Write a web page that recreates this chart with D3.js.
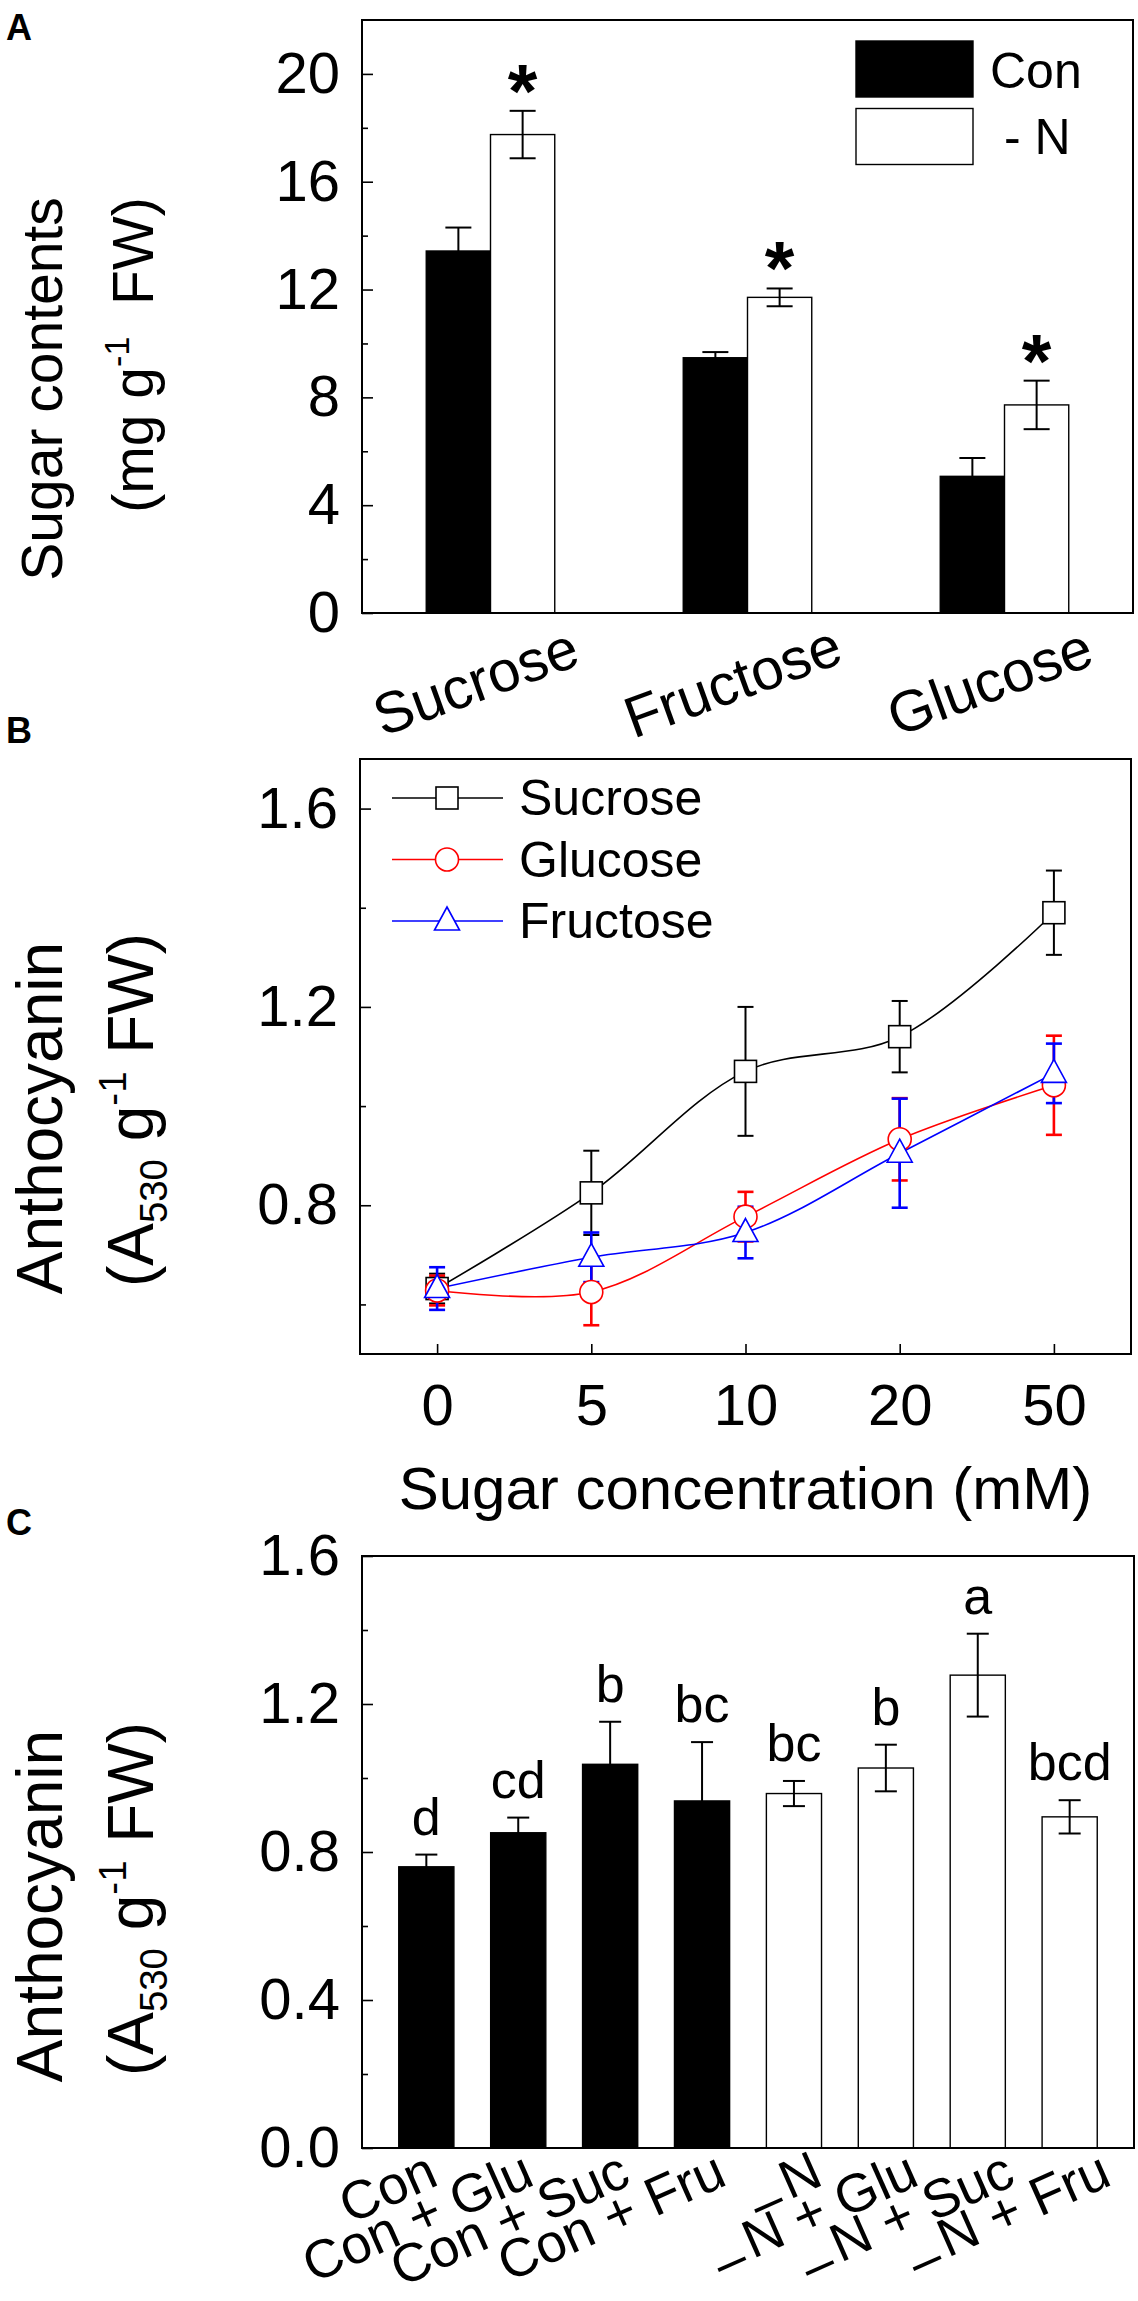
<!DOCTYPE html>
<html>
<head>
<meta charset="utf-8">
<script src="https://cdn.jsdelivr.net/npm/d3@7"></script>
<style>
  html, body { margin: 0; padding: 0; background: #fff; }
  svg { display: block; }
  text { font-family: "Liberation Sans", Arial, sans-serif; fill: #000; }
</style>
</head>
<body>
<div id="chart"></div>
<script>
// ── Data ─────────────────────────────────────────────────────────
// Panel A: sugar contents
const sugarNames = ['Sucrose', 'Fructose', 'Glucose'];
const sugarCon = [13.43, 9.47, 5.07];
const sugarConErr = [0.87, 0.21, 0.68];
const sugarMinusN = [17.75, 11.71, 7.72];
const sugarMinusNErr = [0.88, 0.33, 0.9];
const sugarTicks = [0, 4, 8, 12, 16, 20];

// Panel B: anthocyanin vs sugar concentration
const concLabels = ['0', '5', '10', '20', '50'];
const sucroseVals = [0.632, 0.825, 1.07, 1.14, 1.39];
const sucroseErr = [0.03, 0.085, 0.13, 0.072, 0.085];
const glucoseVals = [0.628, 0.625, 0.777, 0.933, 1.042];
const glucoseErr = [0.03, 0.067, 0.05, 0.083, 0.1];
const fructoseVals = [0.632, 0.695, 0.745, 0.905, 1.066];
const fructoseErr = [0.043, 0.05, 0.052, 0.11, 0.06];
const anthoTicksB = [0.8, 1.2, 1.6];

// Panel C: anthocyanin per treatment
const treatments = ['Con', 'Con + Glu', 'Con + Suc', 'Con + Fru', '–N', '–N + Glu', '–N + Suc', '–N + Fru'];
const treatmentVals = [0.76, 0.852, 1.037, 0.938, 0.958, 1.027, 1.278, 0.895];
const treatmentErr = [0.033, 0.041, 0.115, 0.159, 0.034, 0.063, 0.112, 0.045];
const treatmentLetters = ['d', 'cd', 'b', 'bc', 'bc', 'b', 'a', 'bcd'];
const anthoTicksC = [0, 0.4, 0.8, 1.2, 1.6];

// ── Setup ────────────────────────────────────────────────────────
const W = 1138, H = 2301;
const svg = d3.select('#chart').append('svg')
  .attr('width', W).attr('height', H)
  .attr('viewBox', `0 0 ${W} ${H}`);
svg.append('rect').attr('width', W).attr('height', H).attr('fill', '#fff');

const TICK_FONT = 58;

function frame(g, x0, x1, y0, y1) {
  g.append('rect')
    .attr('x', x0).attr('y', y0)
    .attr('width', x1 - x0).attr('height', y1 - y0)
    .attr('fill', 'none').attr('stroke', '#000').attr('stroke-width', 2);
}

// inward y ticks with labels on the left
function yAxis(g, y, x0, major, minor, fmt) {
  const ax = g.append('g').attr('transform', `translate(${x0},0)`);
  ax.call(d3.axisLeft(y).tickValues(major).tickSize(-11).tickPadding(22).tickFormat(fmt));
  ax.append('g').call(d3.axisLeft(y).tickValues(minor).tickSize(-6).tickFormat(''));
  ax.selectAll('path.domain').remove();
  ax.selectAll('line').attr('stroke', '#000').attr('stroke-width', 1.6);
  ax.selectAll('text')
    .attr('font-size', TICK_FONT)
    .attr('font-family', '"Liberation Sans", Arial, sans-serif')
    .attr('fill', '#000');
}

function panelLabel(txt, x, y) {
  svg.append('text').attr('x', x).attr('y', y)
    .attr('font-size', 36).attr('font-weight', 700).text(txt);
}

// rotated two-line y title; parts: [text, 'sup'|'sub'|null]
function yTitle(size, cx1, cx2, cy1, cy2, line1, line2parts) {
  svg.append('text')
    .attr('transform', `translate(${cx1},${cy1}) rotate(-90)`)
    .attr('text-anchor', 'middle')
    .attr('font-size', size)
    .text(line1);
  const t = svg.append('text')
    .attr('transform', `translate(${cx2},${cy2}) rotate(-90)`)
    .attr('text-anchor', 'middle')
    .attr('font-size', size)
    .attr('xml:space', 'preserve');
  let shift = 0;
  line2parts.forEach(([s, kind]) => {
    const ts = t.append('tspan').text(s);
    let target = 0;
    if (kind === 'sup') { target = -0.42 * size; ts.attr('font-size', 0.6 * size); }
    if (kind === 'sub') { target = 0.22 * size; ts.attr('font-size', 0.6 * size); }
    ts.attr('dy', target - shift);
    shift = target;
  });
}

function errBars(g, data, xf, y, cap, color, width) {
  const eb = g.append('g').attr('stroke', color).attr('stroke-width', width).attr('fill', 'none');
  data.forEach(d => {
    const x = xf(d);
    eb.append('line').attr('x1', x).attr('x2', x).attr('y1', y(d.v - d.e)).attr('y2', y(d.v + d.e));
    eb.append('line').attr('x1', x - cap / 2).attr('x2', x + cap / 2).attr('y1', y(d.v + d.e)).attr('y2', y(d.v + d.e));
    eb.append('line').attr('x1', x - cap / 2).attr('x2', x + cap / 2).attr('y1', y(d.v - d.e)).attr('y2', y(d.v - d.e));
  });
}

// ── Panel A ──────────────────────────────────────────────────────
(function panelA() {
  const x0 = 362, x1 = 1133, y0 = 20, y1 = 613;
  const g = svg.append('g');
  const x = d3.scaleBand().domain(sugarNames).range([x0, x1]).paddingInner(0.5).paddingOuter(0.25);
  const sub = d3.scaleBand().domain(['con', 'n']).range([0, x.bandwidth()]);
  const y = d3.scaleLinear().domain([0, 22]).range([y1, y0]);

  const rows = [];
  sugarNames.forEach((s, i) => {
    rows.push({ s, k: 'con', v: sugarCon[i], e: sugarConErr[i] });
    rows.push({ s, k: 'n', v: sugarMinusN[i], e: sugarMinusNErr[i] });
  });

  g.selectAll('.bar').data(rows).enter().append('rect')
    .attr('x', d => x(d.s) + sub(d.k))
    .attr('y', d => y(d.v))
    .attr('width', sub.bandwidth())
    .attr('height', d => y(0) - y(d.v))
    .attr('fill', d => d.k === 'con' ? '#000' : '#fff')
    .attr('stroke', '#000').attr('stroke-width', 1.4);

  errBars(g, rows, d => x(d.s) + sub(d.k) + sub.bandwidth() / 2, y, 26, '#000', 2);

  // significance asterisks over -N bars
  g.selectAll('.star').data(rows.filter(d => d.k === 'n')).enter().append('text')
    .attr('x', d => x(d.s) + sub('n') + sub.bandwidth() / 2)
    .attr('y', d => y(d.v + d.e) + 6)
    .attr('text-anchor', 'middle')
    .attr('font-family', '"Liberation Serif", "Times New Roman", serif')
    .attr('font-weight', 700)
    .attr('font-size', 76)
    .text('*');

  frame(g, x0, x1, y0, y1);
  yAxis(g, y, x0, sugarTicks, [2, 6, 10, 14, 18], d3.format('d'));

  // rotated category labels
  g.selectAll('.xlab').data(sugarNames).enter().append('text')
    .attr('transform', d => `translate(${x(d) + x.bandwidth() / 2 - 15},${681}) rotate(-20)`)
    .attr('text-anchor', 'middle')
    .attr('dominant-baseline', 'central')
    .attr('font-size', 58)
    .text(d => d);

  // legend
  const lg = g.append('g');
  [['Con', '#000'], ['- N', '#fff']].forEach(([lab, fill], i) => {
    lg.append('rect').attr('x', 856).attr('y', 41 + i * 67.5).attr('width', 117).attr('height', 56)
      .attr('fill', fill).attr('stroke', '#000').attr('stroke-width', 1.4);
    lg.append('text').attr('x', i === 0 ? 990 : 1004).attr('y', 88 + i * 65.5)
      .attr('font-size', 50).text(lab);
  });

  panelLabel('A', 6, 40);
  yTitle(57, 62, 153, 389, 355, 'Sugar contents', [['(mg g', null], ['-1', 'sup'], ['  FW)', null]]);
})();

// ── Panel B ──────────────────────────────────────────────────────
(function panelB() {
  const x0 = 360, x1 = 1131, y0 = 759, y1 = 1354;
  const g = svg.append('g');
  const x = d3.scalePoint().domain(concLabels).range([x0, x1]).padding(0.5);
  const y = d3.scaleLinear().domain([0.5, 1.7]).range([y1, y0]);

  const series = [
    { name: 'Sucrose', vals: sucroseVals, err: sucroseErr, color: '#000', shape: 'square', ew: 2 },
    { name: 'Glucose', vals: glucoseVals, err: glucoseErr, color: '#ff0000', shape: 'circle', ew: 2.6 },
    { name: 'Fructose', vals: fructoseVals, err: fructoseErr, color: '#0000ff', shape: 'triangle', ew: 2.6 },
  ];

  const line = d3.line().x(d => x(d.c)).y(d => y(d.v)).curve(d3.curveCatmullRom.alpha(0.5));

  function marker(sel, shape, color) {
    if (shape === 'square') {
      sel.append('rect').attr('x', -11).attr('y', -11).attr('width', 22).attr('height', 22);
    } else if (shape === 'circle') {
      sel.append('circle').attr('r', 11.5);
    } else {
      sel.append('path').attr('d', 'M0,-14 L12.5,9 L-12.5,9 Z');
    }
    sel.selectAll('*').attr('fill', '#fff').attr('stroke', color).attr('stroke-width', 1.6);
  }

  series.forEach(s => {
    const pts = concLabels.map((c, i) => ({ c, v: s.vals[i], e: s.err[i] }));
    errBars(g, pts, d => x(d.c), y, 16, s.color, s.ew);
  });
  series.forEach(s => {
    const pts = concLabels.map((c, i) => ({ c, v: s.vals[i], e: s.err[i] }));
    g.append('path').datum(pts).attr('d', line)
      .attr('fill', 'none').attr('stroke', s.color).attr('stroke-width', 1.6);
  });
  series.forEach(s => {
    const pts = concLabels.map((c, i) => ({ c, v: s.vals[i] }));
    pts.forEach(p => {
      marker(g.append('g').attr('transform', `translate(${x(p.c)},${y(p.v)})`), s.shape, s.color);
    });
  });

  frame(g, x0, x1, y0, y1);
  yAxis(g, y, x0, anthoTicksB, [0.6, 1.0, 1.4], d3.format('.1f'));

  const xa = g.append('g').attr('transform', `translate(0,${y1})`)
    .call(d3.axisBottom(x).tickSize(-10).tickPadding(30));
  xa.select('path.domain').remove();
  xa.selectAll('line').attr('stroke', '#000').attr('stroke-width', 1.6);
  xa.selectAll('text').attr('font-size', TICK_FONT)
    .attr('font-family', '"Liberation Sans", Arial, sans-serif').attr('fill', '#000');

  svg.append('text').attr('x', (x0 + x1) / 2).attr('y', 1509)
    .attr('text-anchor', 'middle').attr('font-size', 60)
    .text('Sugar concentration (mM)');

  // legend
  series.forEach((s, i) => {
    const ly = 798 + i * 61.5;
    g.append('line').attr('x1', 392).attr('x2', 503).attr('y1', ly).attr('y2', ly)
      .attr('stroke', s.color).attr('stroke-width', 1.6);
    marker(g.append('g').attr('transform', `translate(447,${ly})`), s.shape, s.color);
    g.append('text').attr('x', 519).attr('y', ly).attr('dominant-baseline', 'central')
      .attr('font-size', 50).text(s.name);
  });

  panelLabel('B', 6, 743);
  yTitle(64, 62, 153, 1118, 1110, 'Anthocyanin',
    [['(A', null], ['530', 'sub'], [' g', null], ['-1', 'sup'], [' FW)', null]]);
})();

// ── Panel C ──────────────────────────────────────────────────────
(function panelC() {
  const x0 = 362, x1 = 1134, y0 = 1556, y1 = 2148;
  const g = svg.append('g');
  const x = d3.scaleBand().domain(treatments).range([x0, x1]).paddingInner(0.4).paddingOuter(0.4);
  const y = d3.scaleLinear().domain([0, 1.6]).range([y1, y0]);

  const rows = treatments.map((t, i) => ({
    t, v: treatmentVals[i], e: treatmentErr[i], l: treatmentLetters[i], con: i < 4,
  }));

  g.selectAll('.bar').data(rows).enter().append('rect')
    .attr('x', d => x(d.t)).attr('y', d => y(d.v))
    .attr('width', x.bandwidth()).attr('height', d => y(0) - y(d.v))
    .attr('fill', d => d.con ? '#000' : '#fff')
    .attr('stroke', '#000').attr('stroke-width', 1.4);

  errBars(g, rows, d => x(d.t) + x.bandwidth() / 2, y, 22, '#000', 2);

  g.selectAll('.letter').data(rows).enter().append('text')
    .attr('x', d => x(d.t) + x.bandwidth() / 2)
    .attr('y', d => y(d.v + d.e) - 20)
    .attr('text-anchor', 'middle')
    .attr('font-size', 52)
    .text(d => d.l);

  frame(g, x0, x1, y0, y1);
  yAxis(g, y, x0, anthoTicksC, [0.2, 0.6, 1.0, 1.4], d3.format('.1f'));

  // rotated treatment labels; their anchors fan out slightly wider than the bars
  const first = x(treatments[0]) + x.bandwidth() / 2;
  const last = x(treatments[treatments.length - 1]) + x.bandwidth() / 2;
  const labelX = d3.scalePoint().domain(treatments).range([first + 14, last + 44]);
  rows.forEach(d => {
    const t = g.append('text')
      .attr('transform', `translate(${labelX(d.t)},${y1 + 36}) rotate(-24)`)
      .attr('text-anchor', 'end')
      .attr('font-size', 54);
    if (d.t.startsWith('–')) {
      // the leading dash sits low, near the baseline, as in the original
      t.append('tspan').attr('dy', 10).text('–');
      t.append('tspan').attr('dy', -10).attr('dx', 6).text(d.t.slice(1));
    } else {
      t.text(d.t);
    }
  });

  panelLabel('C', 6, 1535);
  yTitle(64, 62, 153, 1906, 1899, 'Anthocyanin',
    [['(A', null], ['530', 'sub'], [' g', null], ['-1', 'sup'], [' FW)', null]]);
})();
</script>
</body>
</html>
